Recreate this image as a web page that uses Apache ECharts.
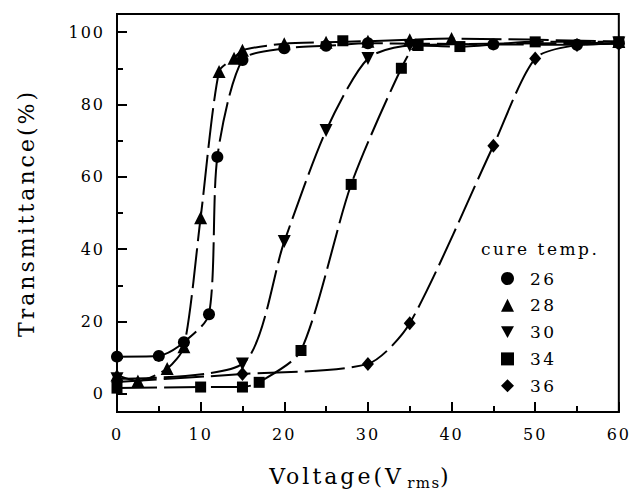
<!DOCTYPE html>
<html>
<head>
<meta charset="utf-8">
<script src="https://cdn.jsdelivr.net/npm/echarts@6/dist/echarts.min.js"></script>
<style>
  html, body { margin: 0; padding: 0; background: #fff; }
  #chart { width: 632px; height: 495px; }
  /* wide, typewriter-like spacing of the serif lettering */
  #chart text[style*="22px"] { letter-spacing: 3px; }
  #chart text[style*="17px"] { letter-spacing: 2.5px; }
  #chart text[style*="16px"] { letter-spacing: 2px; }
  #chart text[style*="15px"] { letter-spacing: 1.5px; }
</style>
</head>
<body>
<div id="chart"></div>
<script>
const FONT = '"DejaVu Serif", "Liberation Serif", serif';

// Axis ticks
const xTicks = [0, 10, 20, 30, 40, 50, 60];
const yTicks = [0, 20, 40, 60, 80, 100];
const yMinorTicks = [10, 30, 50, 70, 90];

// Legend heading and series names (cure temperature, deg C)
const legendTitle = 'cure temp.';
const temps = ['26', '28', '30', '34', '36'];

// [voltage (Vrms), transmittance (%)] per cure temperature
const cure26 = [[0, 10.3], [5, 10.5], [8, 14.3], [11, 22], [12, 65.5], [15, 92.3], [20, 95.5], [25, 96.2], [30, 96.9], [45, 96.6], [55, 96.5], [60, 97]];
const cure28 = [[0, 5.2], [2.5, 3.6], [6, 7], [8, 13], [10, 48.7], [12.2, 89.1], [14, 92.8], [15, 95], [20, 96.8], [25, 97.2], [30, 97.5], [35, 97.9], [40, 98.2], [60, 97.4]];
const cure30 = [[0, 4.2], [15, 8.3], [20, 42.1], [25, 72.8], [30, 92.7], [35, 96.3], [60, 97]];
const cure34 = [[0, 1.6], [10, 1.9], [15, 1.9], [17, 3.2], [22, 12], [28, 57.9], [34, 90], [36, 96.3], [41, 96], [50, 97.3], [60, 97.3]];
const cure34Extra = [[27, 97.6]];
const cure36 = [[0, 3.3], [15, 5.5], [30, 8.3], [35, 19.5], [45, 68.6], [50, 92.7], [55, 96.4], [60, 96.8]];

const DOWN_TRIANGLE = 'path://M0,0L10,0L5,9Z';

function curve(name, data, symbol, size, rotate) {
  return {
    type: 'line',
    name: name,
    data: data,
    symbol: symbol,
    symbolSize: size,
    symbolRotate: rotate || 0,
    showAllSymbol: true,
    smooth: 0.25,
    lineStyle: { color: '#000', width: 2, type: [40, 7] },
    itemStyle: { color: '#000', opacity: 1 },
    emphasis: { disabled: true },
    animation: false
  };
}

const chart = echarts.init(document.getElementById('chart'), null, { renderer: 'svg' });

chart.setOption({
  animation: false,
  backgroundColor: '#fff',
  textStyle: { fontFamily: FONT, color: '#000' },
  grid: {
    left: 117, right: 13, top: 14, bottom: 80,
    show: true, borderColor: '#000', borderWidth: 2, backgroundColor: 'transparent'
  },
  xAxis: {
    type: 'value',
    min: 0, max: 60, interval: 10,
    axisLine: { show: true, onZero: false, lineStyle: { color: '#000', width: 2 } },
    axisTick: { show: true, inside: true, length: 10, lineStyle: { color: '#000', width: 2 } },
    minorTick: { show: true, splitNumber: 2, length: 6, lineStyle: { color: '#000', width: 2 } },
    axisLabel: {
      margin: 14, fontFamily: FONT, fontSize: 16, color: '#000',
      customValues: xTicks
    },
    splitLine: { show: false },
    // padding on each piece makes room for the added letter spacing
    name: '{a|Voltage(V}{s|rms}{b|)}',
    nameLocation: 'middle',
    nameGap: 50,
    nameTextStyle: {
      rich: {
        a: { fontFamily: FONT, fontSize: 22, color: '#000', lineHeight: 28, padding: [0, 19, 0, 0] },
        s: { fontFamily: FONT, fontSize: 15, color: '#000', lineHeight: 15, verticalAlign: 'bottom', padding: [0, 3, 0, 0] },
        b: { fontFamily: FONT, fontSize: 22, color: '#000', lineHeight: 28, padding: [0, 3, 0, 0] }
      }
    }
  },
  yAxis: [
    {
      type: 'value',
      min: -5, max: 105,
      axisLine: { show: true, onZero: false, lineStyle: { color: '#000', width: 2 } },
      axisTick: { show: true, inside: true, length: 10, customValues: yTicks, lineStyle: { color: '#000', width: 2 } },
      axisLabel: { margin: 12, fontFamily: FONT, fontSize: 16, color: '#000', customValues: yTicks },
      splitLine: { show: false },
      name: 'Transmittance(%)',
      nameLocation: 'middle',
      nameGap: 80,
      nameRotate: 90,
      nameTextStyle: { fontFamily: FONT, fontSize: 22, color: '#000' }
    },
    {
      type: 'value',
      min: -5, max: 105,
      position: 'left',
      axisLine: { show: false, onZero: false },
      axisTick: { show: true, inside: true, length: 6, customValues: yMinorTicks, lineStyle: { color: '#000', width: 2 } },
      axisLabel: { show: false },
      splitLine: { show: false }
    }
  ],
  legend: {
    orient: 'vertical',
    left: 496, top: 265,
    itemWidth: 13, itemHeight: 13, itemGap: 9.8,
    selectedMode: false,
    textStyle: { fontFamily: FONT, fontSize: 17, color: '#000', padding: [0, 0, 0, 11] },
    data: [
      { name: temps[0], icon: 'circle' },
      { name: temps[1], icon: 'triangle' },
      { name: temps[2], icon: DOWN_TRIANGLE },
      { name: temps[3], icon: 'rect' },
      { name: temps[4], icon: 'diamond' }
    ]
  },
  graphic: [
    {
      type: 'text', left: 481, top: 240,
      style: { text: legendTitle, font: '17px "DejaVu Serif"', fill: '#000' }
    }
  ],
  series: [
    curve(temps[0], cure26, 'circle', 12),
    curve(temps[1], cure28, 'triangle', 13),
    curve(temps[2], cure30, 'triangle', 13, 180),
    curve(temps[3], cure34, 'rect', 11),
    curve(temps[4], cure36, 'diamond', [12, 14]),
    {
      type: 'scatter', name: temps[3], data: cure34Extra,
      symbol: 'rect', symbolSize: 11,
      itemStyle: { color: '#000', opacity: 1 }, emphasis: { disabled: true }, animation: false
    }
  ]
});
</script>
</body>
</html>
